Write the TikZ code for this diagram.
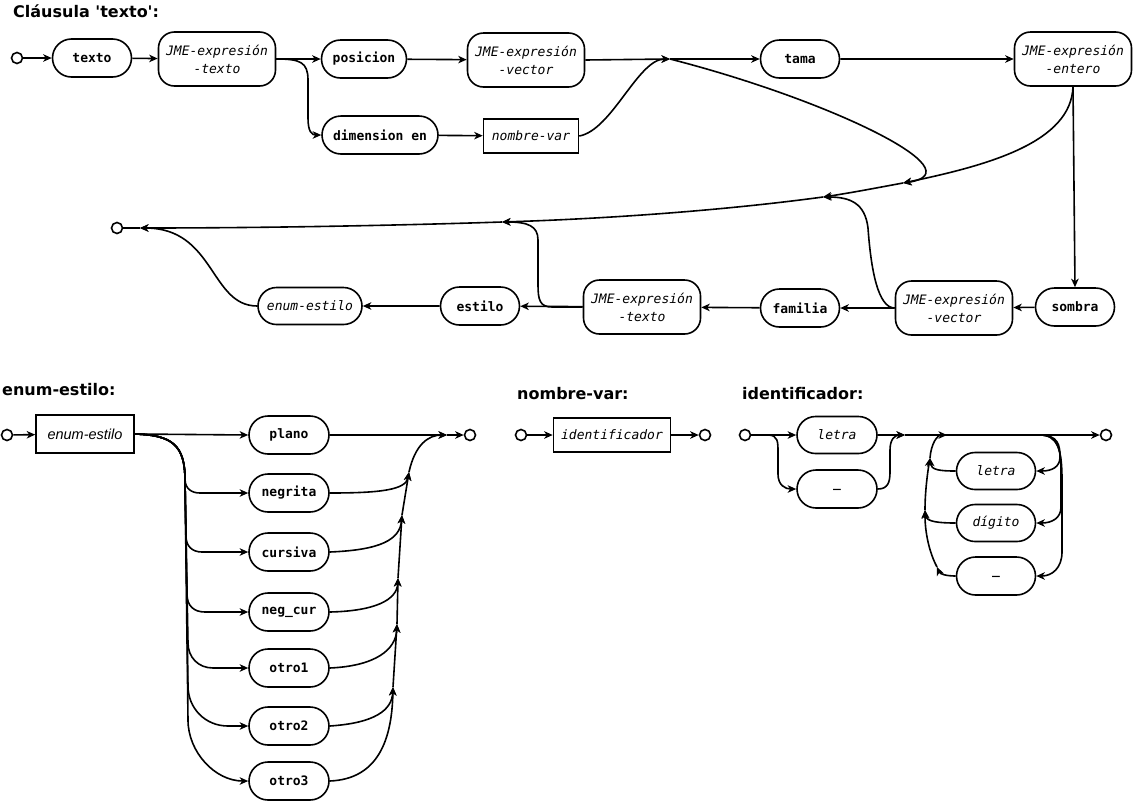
\documentclass[tikz,border=0pt]{standalone}
\usepackage{fontspec}
\setmainfont{DejaVu Sans}[Ligatures=TeXOff]
\newfontfamily\monof{DejaVu Sans Mono}
\newfontfamily\libsans{Liberation Sans}
\usetikzlibrary{shapes.misc,arrows.meta}
\begin{document}
\begin{tikzpicture}[x=1pt,y=-1pt,
  lw/.style={line width=1.6pt},
  arr/.style={lw,-{Stealth[length=8.5pt,width=7.5pt,inset=2.5pt]}},
  ln/.style={lw},
  term/.style={rounded rectangle, draw, lw, font=\monof\bfseries\fontsize{13}{16}\selectfont, minimum height=38pt, minimum width=#1pt, inner sep=0pt},
  nterm/.style={rounded rectangle, draw, lw, font=\monof\itshape\fontsize{13}{16}\selectfont, minimum height=37pt, minimum width=#1pt, inner sep=0pt},
  jme/.style={rectangle, rounded corners=16pt, draw, lw, font=\monof\itshape\fontsize{13}{18}\selectfont, align=center, minimum width=117pt, minimum height=54pt, inner sep=0pt},
  rbox/.style={rectangle, draw, lw, font=\monof\itshape\fontsize{13}{16}\selectfont, minimum width=#1pt, minimum height=34pt, inner sep=0pt},
  circ/.style={circle, draw, lw, fill=white, minimum size=11pt, inner sep=0pt},
  ttl/.style={anchor=base west, inner sep=0pt, font=\bfseries\fontsize{16}{19}\selectfont},
]
\path[use as bounding box] (0,0) rectangle (1133,801);

% ---------------- Clausula texto
\node[ttl] (t1) at (13,17) {Cláusula 'texto':};
\node[circ] (m0) at (17,58) {};
\node[term=79] (texto) at (92,58) {texto};
\node[jme] (jt1) at (217,59) {JME-expresión\\-texto};
\node[term=85] (posicion) at (364,59) {posicion};
\node[jme] (jv1) at (526,60) {JME-expresión\\-vector};
\node[term=116] (dimen) at (380,135) {dimension en};
\node[rbox=95] (nv) at (531,136) {nombre-var};
\node[term=79] (tama) at (800,59) {tama};
\node[jme] (je) at (1073,59) {JME-expresión\\-entero};
\node[term=79] (sombra) at (1075,307) {sombra};
\node[jme] (jv2) at (954,308) {JME-expresión\\-vector};
\node[term=79] (familia) at (800,308) {familia};
\node[jme] (jt2) at (642,307) {JME-expresión\\-texto};
\node[term=79] (estilo) at (480,306) {estilo};
\node[nterm=104] (ee) at (310,306) {enum-estilo};
\node[circ] (mend) at (117,228) {};

\coordinate (j1) at (670,59);
\coordinate (r1) at (903,183);
\coordinate (r2) at (823,197);
\coordinate (r3) at (502,222);
\coordinate (r4) at (140,228);

\draw[arr] (m0) -- (texto);
\draw[arr] (texto) -- (jt1);
\draw[arr] (jt1.east) -- (posicion.west);
\draw[arr] (jt1.east) .. controls (300,59) and (308,62) .. (308,80) -- (308,118) .. controls (308,132) and (312,135) .. (dimen.west);
\draw[arr] (posicion) -- (jv1);
\draw[arr] (dimen) -- (nv);
\draw[arr] (jv1.east) -- (j1);
\draw[arr] (nv.east) .. controls (612,130) and (638,59) .. (j1);
\draw[arr] (j1) -- (tama.west);
\draw[arr] (j1) .. controls (830,100) and (978,172) .. (r1);
\draw[arr] (tama) -- (je);
\draw[arr] (je.south) -- (sombra.north);
\draw[arr] (je.south) .. controls (1071,142) and (990,165) .. (r1);
\draw[arr] (r1) .. controls (876,188) and (850,193) .. (r2);
\draw[arr] (r2) .. controls (720,211) and (600,219) .. (r3);
\draw[arr] (r3) .. controls (380,226) and (250,228) .. (r4);
\draw[ln] (r4) -- (mend);
\draw[arr] (sombra) -- (jv2);
\draw[arr] (jv2) -- (familia);
\draw[arr] (familia) -- (jt2);
\draw[arr] (jt2) -- (estilo);
\draw[arr] (estilo) -- (ee);
\draw[arr] (jv2.west) .. controls (878,308) and (871,270) .. (868,228) .. controls (865,203) and (850,197) .. (r2);
\draw[arr] (jt2.west) -- (552,307) .. controls (540,307) and (538,300) .. (538,285) -- (538,240) .. controls (538,226) and (528,222) .. (r3);
\draw[arr] (ee.west) .. controls (210,306) and (215,228) .. (r4);

% ---------------- enum-estilo
\node[ttl] (t2) at (2,395) {enum-estilo:};
\node[circ] (e0) at (7,435) {};
\node[rbox=98, font=\libsans\itshape\fontsize{14.5}{16}\selectfont, minimum height=38pt] (ee0) at (85,434) {enum-estilo};
\node[term=80] (plano) at (289,435) {plano};
\node[term=80] (negrita) at (289,493) {negrita};
\node[term=80] (cursiva) at (289,552) {cursiva};
\node[term=80] (negcur) at (289,612) {neg\_cur};
\node[term=80] (otro1) at (289,668) {otro1};
\node[term=80] (otro2) at (289,726) {otro2};
\node[term=80] (otro3) at (289,781) {otro3};
\node[circ] (e9) at (470,435) {};
\coordinate (ej) at (447,435);
\coordinate (A1) at (409,472);
\coordinate (A2) at (402,515);
\coordinate (A3) at (398,578);
\coordinate (A4) at (397,624);
\coordinate (A5) at (393,687);

\draw[arr] (e0) -- (ee0);
\draw[arr] (ee0.east) -- (plano.west);
\draw[arr] (plano.east) -- (ej);
\draw[arr] (ej) -- (e9);
\draw[arr] (ee0.east) .. controls (172,435) and (185,445) .. (185,479) .. controls (185,489) and (192,493) .. (200,493) -- (negrita.west);
\draw[arr] (ee0.east) .. controls (172,435) and (185,445) .. (185,480) -- (186,536) .. controls (186,546) and (192,552) .. (202,552) -- (cursiva.west);
\draw[arr] (ee0.east) .. controls (172,435) and (185,445) .. (185,480) -- (187,594) .. controls (187,606) and (194,612) .. (205,612) -- (negcur.west);
\draw[arr] (ee0.east) .. controls (172,435) and (185,445) .. (185,480) -- (188,643) .. controls (188,657) and (198,668) .. (213,668) -- (otro1.west);
\draw[arr] (ee0.east) .. controls (172,435) and (185,445) .. (185,480) -- (188,686) .. controls (188,708) and (205,726) .. (228,726) -- (otro2.west);
\draw[arr] (ee0.east) .. controls (172,435) and (185,445) .. (185,480) -- (188,720) .. controls (188,752) and (215,781) .. (otro3.west);

\draw[arr] (negrita.east) .. controls (380,493) and (406,490) .. (A1);
\draw[arr] (cursiva.east) .. controls (380,550) and (400,540) .. (A2);
\draw[arr] (negcur.east) .. controls (375,611) and (397,600) .. (A3);
\draw[arr] (otro1.east) .. controls (375,666) and (396,650) .. (A4);
\draw[arr] (otro2.east) .. controls (375,723) and (392,710) .. (A5);
\draw[arr] (otro3.east) .. controls (378,779) and (392,740) .. (A5);
\draw[arr] (A5) -- (A4);
\draw[arr] (A4) -- (A3);
\draw[arr] (A3) -- (A2);
\draw[arr] (A2) -- (A1);
\draw[arr] (A1) .. controls (415,445) and (428,435) .. (ej);

% ---------------- nombre-var
\node[ttl] (t3) at (517,399) {nombre-var:};
\node[circ] (n0) at (521,435) {};
\node[rbox=117] (idf) at (612,435) {identificador};
\node[circ] (n9) at (705,435) {};
\draw[arr] (n0) -- (idf);
\draw[arr] (idf) -- (n9);

% ---------------- identificador
\node[ttl] (t4) at (742,399) {identificador:};
\node[circ] (i0) at (745,435) {};
\node[nterm=80] (letra1) at (837,435) {letra};
\node[term=80] (us1) at (837,489) {\_};
\node[nterm=79] (letra2) at (996,471) {letra};
\node[nterm=79] (digito) at (996,523) {dígito};
\node[term=79] (us2) at (996,576) {\_};
\node[circ] (i9) at (1106,435) {};
\coordinate (ij) at (905,435);
\coordinate (il) at (947,435);
\coordinate (ir) at (1040,435);
\coordinate (L1) at (930,458);
\coordinate (L2) at (925,510);
\coordinate (L3) at (937,567);

\draw[arr] (i0) -- (letra1);
\draw[arr] (i0) -- (768,435) .. controls (778,435) and (778,442) .. (778,452) -- (778,474) .. controls (778,485) and (785,489) .. (us1.west);
\draw[arr] (letra1.east) -- (ij);
\draw[arr] (us1.east) .. controls (888,489) and (890,482) .. (890,472) -- (890,450) .. controls (890,439) and (895,435) .. (ij);
\draw[arr] (ij) -- (i9);
\draw[arr] (ir) .. controls (1058,435) and (1060,445) .. (1060,457) .. controls (1060,467) and (1052,471) .. (letra2.east);
\draw[arr] (ir) .. controls (1058,435) and (1061,450) .. (1061,470) -- (1061,507) .. controls (1061,518) and (1052,523) .. (digito.east);
\draw[arr] (ir) .. controls (1058,435) and (1062,450) .. (1062,480) -- (1062,552) .. controls (1062,568) and (1052,576) .. (us2.east);
\draw[arr] (letra2.west) .. controls (940,471) and (931,470) .. (L1);
\draw[arr] (digito.west) .. controls (940,523) and (926,522) .. (L2);
\draw[arr] (us2.west) .. controls (946,576) and (940,574) .. (L3);
\draw[arr] (L3) .. controls (929,552) and (925,532) .. (L2);
\draw[arr] (L2) .. controls (925,490) and (928,470) .. (L1);
\draw[arr] (L1) .. controls (931,444) and (937,435) .. (il);
\end{tikzpicture}
\end{document}
